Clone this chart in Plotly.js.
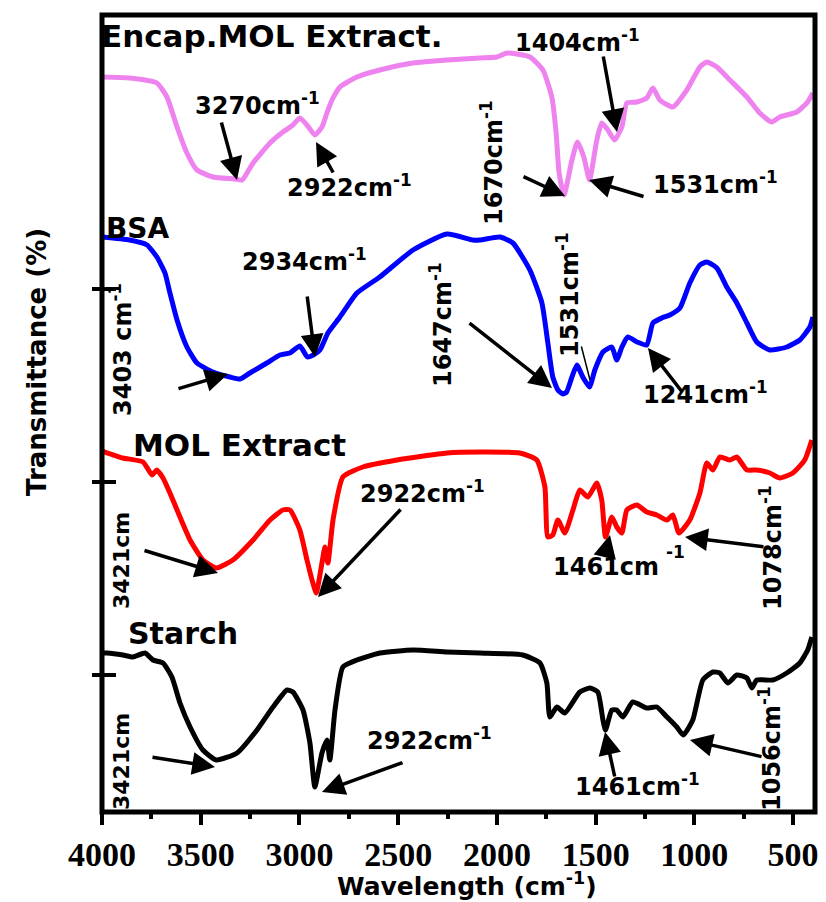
<!DOCTYPE html>
<html>
<head>
<meta charset="utf-8">
<script src="https://cdn.plot.ly/plotly-3.0.1.min.js"></script>
<style>html,body{margin:0;padding:0;background:#fff;}#chart{width:826px;height:902px;}</style>
</head>
<body>
<div id="chart"></div>
<script>
// ---------------- data (wavenumber cm-1, transmittance a.u., offset stacked) ----------------
const encapWn = [4000,3860,3722,3671,3620,3570,3519,3438,3330,3290,3235,3149,3084,3033,2998,2962,2922,2886,2861,2835,2795,2709,2593,2425,2253,2086,2000,1949,1833,1767,1722,1700,1685,1660,1620,1592,1560,1531,1494,1469,1438,1404,1367,1342,1291,1241,1210,1175,1109,1038,972,937,886,820,734,669,608,567,481,426,400];
const encapT  = [736,735,730,716,686,660,643,636,634,633,650,670,681,688,695,688,678,686,700,713,726,736,743,750,753,755,756,760,756,743,716,680,640,618,653,671,656,633,673,690,683,673,686,710,711,715,725,713,706,723,746,751,746,733,716,700,691,696,701,711,720];

const bsaWn = [4000,3860,3772,3722,3681,3656,3620,3570,3519,3438,3352,3301,3251,3165,3099,3048,2998,2960,2930,2896,2856,2795,2709,2593,2425,2253,2122,2086,1985,1919,1833,1772,1742,1717,1691,1666,1647,1620,1595,1565,1531,1504,1463,1418,1393,1367,1337,1291,1241,1210,1165,1124,1073,1023,972,937,886,836,785,734,684,618,532,466,415,400];
const bsaT  = [576,573,568,556,540,520,493,466,450,441,436,434,440,450,458,460,467,456,458,463,480,496,520,536,563,579,573,573,576,570,543,510,470,436,423,419,421,436,448,436,426,443,461,466,453,466,476,471,468,490,495,498,505,530,548,551,545,526,510,490,471,463,466,473,486,496];

const molWn = [4000,3894,3792,3747,3722,3691,3656,3605,3554,3489,3421,3337,3235,3149,3084,3048,2998,2962,2932,2915,2886,2871,2856,2830,2780,2679,2506,2253,2086,1884,1798,1757,1742,1717,1691,1656,1615,1580,1539,1494,1469,1450,1418,1393,1367,1342,1291,1241,1190,1139,1109,1078,1023,972,937,906,871,820,785,734,684,618,567,501,441,405];
const molT  = [362,355,351,338,343,335,320,296,273,253,245,253,273,293,303,303,283,253,230,220,250,266,250,293,336,346,353,360,361,360,353,326,276,278,293,280,303,323,316,330,313,276,296,286,280,303,308,301,298,293,298,280,293,320,350,343,356,353,356,343,343,340,335,340,353,373];

const starchWn = [4000,3975,3894,3843,3782,3742,3691,3646,3605,3554,3489,3421,3316,3215,3134,3063,3033,2982,2947,2922,2886,2861,2846,2820,2780,2709,2593,2425,2253,2086,1869,1782,1747,1732,1696,1656,1580,1529,1489,1463,1450,1418,1393,1362,1312,1241,1190,1139,1089,1056,1008,957,906,871,830,785,734,709,684,603,532,466,426,405];
const starchT  = [160,160,158,156,160,153,150,136,110,86,63,53,60,83,106,123,121,103,70,26,60,73,53,103,146,153,160,163,161,160,158,150,130,96,106,100,121,125,121,93,83,103,103,96,111,105,106,96,86,78,93,133,141,140,130,138,135,125,133,133,140,150,163,176];

const seriesNames  = ['Encap.MOL Extract.','BSA','MOL Extract','Starch'];
const seriesColors = ['#EE82EE','#0000FF','#FF0000','#000000'];
const yTickVals = [138,331,524];

// ---------------- helpers (pixel -> paper) ----------------
const L = 102, T = 15, W = 713, H = 797;
const px = x => (x - L) / W;
const py = y => (T + H - y) / H;
const BOLD = {family:'DejaVu Sans', color:'black', weight:'bold'};

function label(text, x, y, size, opt) {
  return Object.assign({xref:'paper', yref:'paper', x:px(x), y:py(y), text:text, showarrow:false,
    xanchor:'left', yanchor:'middle', font:Object.assign({}, BOLD, {size:size})}, opt || {});
}
function vlabel(text, x, y, size) {
  return {xref:'paper', yref:'paper', x:px(x), y:py(y), text:text, showarrow:false, textangle:-90,
    xanchor:'center', yanchor:'middle', font:Object.assign({}, BOLD, {size:size})};
}
function arrow(tx, ty, hx, hy, w, head) {
  return {xref:'paper', yref:'paper', x:px(hx), y:py(hy), axref:'pixel', ayref:'pixel',
    ax:tx - hx, ay:ty - hy, text:'', showarrow:true, arrowhead:(head === undefined ? 2 : head),
    arrowsize:1.3, arrowwidth:(w || 3.5), arrowcolor:'black', standoff:0};
}

const sup = '<sup>-1</sup>';
const annotations = [
  // axis titles
  {xref:'paper', yref:'paper', x:px(467), y:py(884), text:'Wavelength (cm' + sup + ')', showarrow:false,
   xanchor:'center', yanchor:'middle', font:Object.assign({}, BOLD, {size:25})},
  {xref:'paper', yref:'paper', x:px(37), y:py(362), text:'Transmittance (%)', showarrow:false, textangle:-90,
   xanchor:'center', yanchor:'middle', font:Object.assign({}, BOLD, {size:26})},
  // series names
  label(seriesNames[0], 99, 36, 31),
  label(seriesNames[1], 104, 228, 28),
  label(seriesNames[2], 131, 445, 31),
  label(seriesNames[3], 126, 633, 30),
  // Encap peaks
  label('3270cm' + sup, 193, 104, 24),
  label('2922cm' + sup, 285, 186, 24),
  label('1404cm' + sup, 513, 41, 24),
  label('1531cm' + sup, 651, 183, 24),
  vlabel('1670cm' + sup, 492, 163, 24),
  // BSA peaks
  label('2934cm' + sup, 240, 260, 24),
  vlabel('3403 cm' + sup, 121, 350, 24),
  vlabel('1647cm' + sup, 441, 325, 24),
  vlabel('1531cm' + sup, 568, 295, 24),
  label('1241cm' + sup, 641, 393, 24),
  // MOL peaks
  vlabel('3421cm', 121, 561, 22),
  label('2922cm' + sup, 358, 492, 24),
  label('1461cm', 551, 567, 24),
  label('-1', 664, 552, 17),
  vlabel('1078cm' + sup, 771, 548, 24),
  // Starch peaks
  vlabel('3421cm', 121, 762, 22),
  label('2922cm' + sup, 365, 739, 24),
  label('1461cm' + sup, 573, 785, 24),
  vlabel('1056cm' + sup, 770, 749, 24),
  // arrows
  arrow(221, 121, 237, 180),
  arrow(334, 174, 316, 142),
  arrow(603, 55, 617, 132),
  arrow(522, 176, 565, 196),
  arrow(645, 197, 589, 180),
  arrow(177, 389, 228, 374),
  arrow(307, 295, 315, 357),
  arrow(468, 322, 552, 388),
  arrow(581, 345, 590, 380, 1.5, 0),
  arrow(683, 393, 648, 348),
  arrow(143, 550, 218, 573),
  arrow(402, 508, 318, 597),
  arrow(605, 556, 610, 535),
  arrow(765, 547, 685, 537),
  arrow(151, 757, 215, 767),
  arrow(404, 762, 322, 792),
  arrow(615, 778, 605, 732),
  arrow(763, 757, 690, 740)
];

const xs = [encapWn, bsaWn, molWn, starchWn];
const ys = [encapT, bsaT, molT, starchT];
const traces = xs.map((x, i) => ({
  x: x, y: ys[i], type:'scatter', mode:'lines', name: seriesNames[i],
  line:{color: seriesColors[i], width:5, shape:'spline', smoothing:0.5}
}));

// frame plus the inward half of each y tick (ticks cross the frame line)
const shapes = [{type:'rect', xref:'paper', yref:'paper', x0:0, x1:1, y0:0, y1:1,
  line:{width:5, color:'black'}, layer:'above'}].concat(
  yTickVals.map(v => ({type:'line', xref:'paper', yref:'y', x0:0, x1:px(116), y0:v, y1:v,
    line:{width:4, color:'black'}, layer:'above'})));

const layout = {
  width:826, height:902,
  margin:{l:L, r:826 - L - W, t:T, b:902 - T - H},
  paper_bgcolor:'white', plot_bgcolor:'white',
  showlegend:false,
  xaxis:{range:[4000,389], tickmode:'linear', tick0:0, dtick:500, ticks:'outside', ticklen:12,
    tickwidth:4, tickcolor:'black', showgrid:false, zeroline:false, showline:false,
    ticklabelstandoff:0,
    tickfont:{family:'Liberation Serif', size:34, color:'black', weight:'bold'},
    minor:{dtick:250, tick0:0, ticks:'outside', ticklen:6, tickwidth:4, tickcolor:'black', showgrid:false}},
  yaxis:{range:[1,798], tickmode:'array', tickvals:yTickVals, showticklabels:false,
    ticks:'outside', ticklen:9, tickwidth:4, tickcolor:'black',
    showgrid:false, zeroline:false, showline:false},
  shapes: shapes,
  annotations: annotations
};

Plotly.newPlot('chart', traces, layout, {staticPlot:true, displayModeBar:false});
</script>
</body>
</html>
